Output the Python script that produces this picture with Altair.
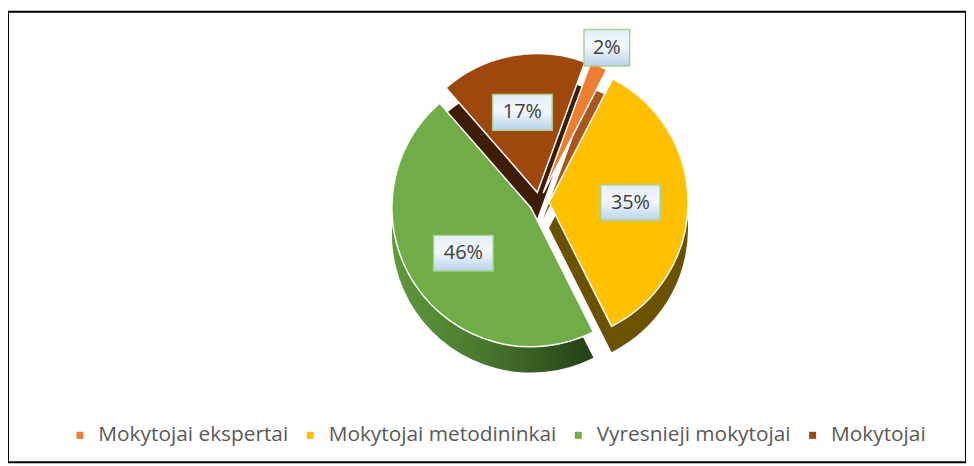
import altair as alt
import pandas as pd

categories = ["Mokytojai ekspertai", "Mokytojai metodininkai", "Vyresnieji mokytojai", "Mokytojai"]
values = [2, 35, 46, 17]
top_colors = ["#ED7D31", "#FFC000", "#70AD47", "#9E480E"]
side_colors = ["#A9561F", "#6B5200", "#3E6A27", "#3F1C05"]

df = pd.DataFrame({"category": categories, "value": values, "idx": list(range(len(values)))})

W, H = 965, 454
CX, CY = 535, 192
R = 140
EXP = 10
DEPTH = 26
ROT = 0.35

base = alt.Chart(df).transform_joinaggregate(
    total="sum(value)"
).transform_window(
    cum="sum(value)", sort=[alt.SortField("idx")], frame=[None, 0]
).transform_calculate(
    t0=f"2*PI*(datum.cum - datum.value)/datum.total + {ROT}",
    t1=f"2*PI*datum.cum/datum.total + {ROT}",
).transform_calculate(
    mid="(datum.t0 + datum.t1)/2"
).transform_calculate(
    px=f"{CX} + {EXP}*sin(datum.mid)",
    py=f"{CY} - {EXP}*cos(datum.mid)",
    sy=f"{CY} + {DEPTH} - {EXP}*cos(datum.mid)",
    lx=f"{CX} + (datum.value < 10 ? 170 : 92)*sin(datum.mid)",
    ly=f"{CY} - (datum.value < 10 ? 170 : 92)*cos(datum.mid)",
    lab="datum.value + '%'",
)

side = base.transform_filter(f"datum.idx != 2").mark_arc(radius=R).encode(
    theta=alt.Theta("t0:Q", scale=None, stack=False),
    theta2="t1:Q",
    x=alt.X("px:Q", scale=None),
    y=alt.Y("sy:Q", scale=None),
    color=alt.Color("category:N", scale=alt.Scale(domain=categories, range=side_colors), legend=None),
)

green_grad = alt.Gradient(
    gradient="linear", x1=0, x2=1, y1=0, y2=0,
    stops=[alt.GradientStop(color="#5F9B3C", offset=0),
           alt.GradientStop(color="#46742C", offset=0.5),
           alt.GradientStop(color="#243F17", offset=1)],
)
side_green = base.transform_filter("datum.idx == 2").mark_arc(radius=R, fill=green_grad).encode(
    theta=alt.Theta("t0:Q", scale=None, stack=False),
    theta2="t1:Q",
    x=alt.X("px:Q", scale=None),
    y=alt.Y("sy:Q", scale=None),
)

top = base.mark_arc(radius=R, stroke="white", strokeWidth=1.5).encode(
    theta=alt.Theta("t0:Q", scale=None, stack=False),
    theta2="t1:Q",
    x=alt.X("px:Q", scale=None),
    y=alt.Y("py:Q", scale=None),
    color=alt.Color(
        "category:N",
        scale=alt.Scale(domain=categories, range=top_colors),
        sort=categories,
        legend=alt.Legend(
            title=None, orient="none", direction="horizontal", legendX=62, legendY=416,
            symbolType="square", symbolSize=50, labelFontSize=21, labelColor="#595959",
            labelFont="Open Sans", columnPadding=11, labelOffset=8, symbolStrokeWidth=0,
            labelLimit=600,
        ),
    ),
)

grad = alt.Gradient(
    gradient="linear", x1=0, x2=0, y1=0, y2=1,
    stops=[alt.GradientStop(color="#E2EDF8", offset=0),
           alt.GradientStop(color="#F4F8FC", offset=0.45),
           alt.GradientStop(color="#B9D2EC", offset=1)],
)

box_big = base.transform_filter("datum.value >= 10").mark_point(
    shape="M-1,-0.6H1V0.6H-1Z", size=3600, filled=True, fill=grad, stroke="#A9D18E",
    strokeWidth=1.5, opacity=1,
).encode(x=alt.X("lx:Q", scale=None), y=alt.Y("ly:Q", scale=None))

box_small = base.transform_filter("datum.value < 10").mark_point(
    shape="M-1,-0.8H1V0.8H-1Z", size=2116, filled=True, fill=grad, stroke="#A9D18E",
    strokeWidth=1.5, opacity=1,
).encode(x=alt.X("lx:Q", scale=None), y=alt.Y("ly:Q", scale=None))

labels = base.mark_text(font="Open Sans", fontSize=20, color="#404040").encode(
    x=alt.X("lx:Q", scale=None), y=alt.Y("ly:Q", scale=None), text="lab:N"
)

chart = alt.layer(side, side_green, top, box_big, box_small, labels).resolve_scale(
    color="independent"
).properties(
    width=W, height=H,
    padding={"left": 0, "top": 2, "right": 0, "bottom": 0},
    autosize=alt.AutoSizeParams(type="none"),
).configure_view(stroke="black", strokeWidth=2)

chart.save("out.html", embed_options={"renderer": "svg", "actions": False})
